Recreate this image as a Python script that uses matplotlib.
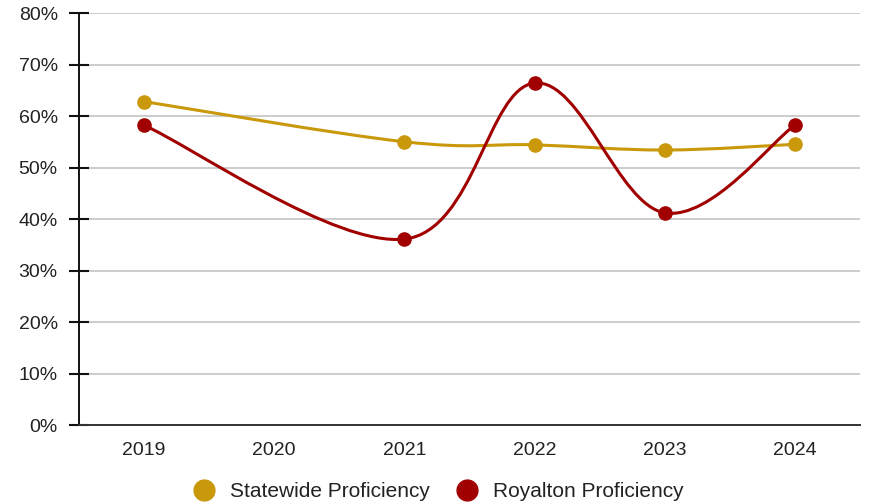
import numpy as np
import matplotlib.pyplot as plt
from matplotlib.path import Path
from matplotlib.patches import PathPatch
from matplotlib.lines import Line2D
from matplotlib.ticker import FuncFormatter

plt.rcParams['font.family'] = ['Liberation Sans', 'DejaVu Sans']

years = ['2019', '2020', '2021', '2022', '2023', '2024']
statewide = [62.8, np.nan, 55.0, 54.4, 53.4, 54.5]
royalton = [58.2, np.nan, 36.1, 66.4, 41.2, 58.2]

gold = '#C9980B'
red = '#A10000'

# pixel size of one x unit / one percent, used so the curve bends evenly
sx, sy = 130.0, 5.15


def smooth_path(xs, ys, k=0.18):
    pts = np.array([(x * sx, y * sy) for x, y in zip(xs, ys)])
    n = len(pts)
    verts = [pts[0]]
    codes = [Path.MOVETO]
    for i in range(n - 1):
        p0 = pts[i - 1] if i > 0 else pts[i]
        p1, p2 = pts[i], pts[i + 1]
        p3 = pts[i + 2] if i + 2 < n else pts[i + 1]
        c1 = p1 + (p2 - p0) * k
        c2 = p2 - (p3 - p1) * k
        verts += [c1, c2, p2]
        codes += [Path.CURVE4] * 3
    verts = np.array(verts) / [sx, sy]
    return Path(verts, codes)


fig = plt.figure(figsize=(8.69, 5.04), dpi=100)
ax = fig.add_axes([0.0909, 0.1567, 0.8987, 0.8175])
ax.set_axisbelow(True)

x = np.arange(len(years))
for vals, col in [(statewide, gold), (royalton, red)]:
    v = np.array(vals, dtype=float)
    ok = ~np.isnan(v)
    path = smooth_path(x[ok], v[ok])
    ax.add_patch(PathPatch(path, facecolor='none', edgecolor=col, lw=2.2, zorder=3))
    ax.plot(x[ok], v[ok], 'o', color=col, ms=9.5, zorder=4)

ax.set_xlim(-0.5, 5.5)
ax.set_ylim(0, 80)
ax.set_xticks(x)
ax.set_xticklabels(years)
ax.set_yticks(np.arange(0, 81, 10))
ax.yaxis.set_major_formatter(FuncFormatter(lambda v, p: f'{v:.0f}%'))

ax.grid(axis='y', color='#cccccc', lw=1.4)
for s in ['top', 'right']:
    ax.spines[s].set_visible(False)
ax.spines['left'].set_color('#111111')
ax.spines['bottom'].set_color('#333333')
ax.spines['left'].set_linewidth(1.4)
ax.spines['bottom'].set_linewidth(1.4)
ax.tick_params(axis='y', direction='inout', length=14.5, width=1.5, color='#111111',
               pad=8, labelsize=14, labelcolor='#222222')
ax.tick_params(axis='x', length=0, pad=12, labelsize=14, labelcolor='#222222')

handles = [Line2D([], [], ls='none', marker='o', ms=15, color=gold),
           Line2D([], [], ls='none', marker='o', ms=15, color=red)]
fig.legend(handles, ['Statewide Proficiency', 'Royalton Proficiency'],
           loc='center', bbox_to_anchor=(0.499, 0.025), ncol=2, frameon=False,
           fontsize=15, handletextpad=0.25, columnspacing=0.8, labelcolor='#222222')

fig.savefig('out.png', dpi=100)
